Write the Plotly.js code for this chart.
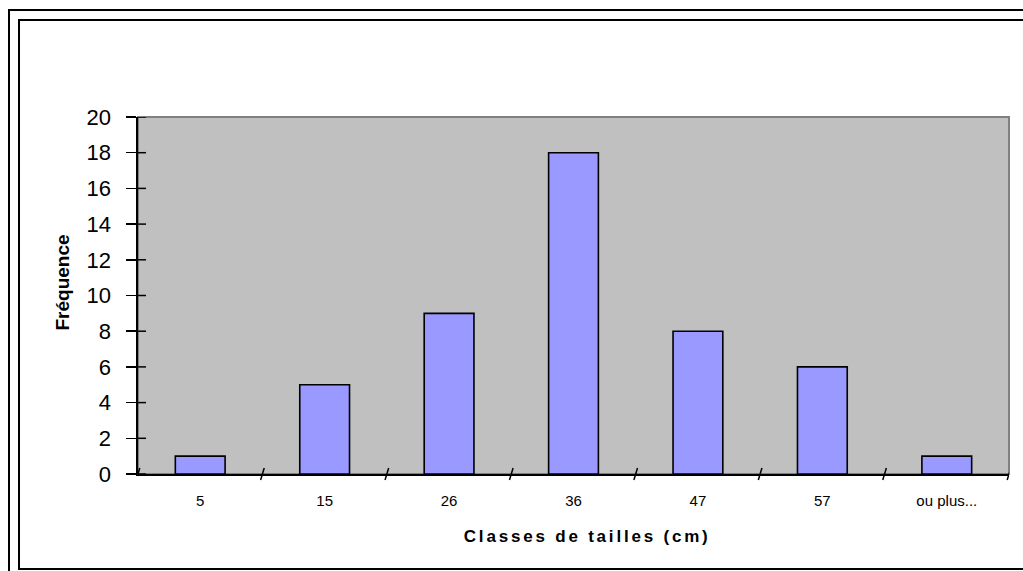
<!DOCTYPE html>
<html>
<head>
<meta charset="utf-8">
<script src="https://cdn.plot.ly/plotly-3.0.1.min.js"></script>
<style>
  html, body { margin: 0; padding: 0; background: #ffffff; }
  #wrap { position: relative; width: 1023px; height: 571px; overflow: hidden; }
  #chart { position: absolute; left: 0; top: 0; width: 1023px; height: 571px; }
  .frame { position: absolute; pointer-events: none; border-color: #000; border-style: solid; border-width: 0; }
  #outer { left: 8px; top: 9px; right: -20px; bottom: -20px; border-left-width: 2px; border-top-width: 2px; }
  #inner { left: 18px; top: 19px; right: -20px; bottom: 1px; border-left-width: 2px; border-top-width: 2px; border-bottom-width: 2px; }
  .xtitle text { letter-spacing: 2.8px; }
</style>
</head>
<body>
<div id="wrap">
  <div id="chart"></div>
  <div class="frame" id="outer"></div>
  <div class="frame" id="inner"></div>
</div>
<script>
// Size classes (cm) and how many individuals fall in each
const classes = ['5', '15', '26', '36', '47', '57', 'ou plus...'];
const frequencies = [1, 5, 9, 18, 8, 6, 1];
const yTicks = [0, 2, 4, 6, 8, 10, 12, 14, 16, 18, 20];

const FONT = 'Arial, "Liberation Sans", sans-serif';
const yRange = [0, 20];
const xRange = [-0.5, classes.length - 0.5];

const trace = {
  type: 'bar',
  x: classes,
  y: frequencies,
  marker: { color: '#9999FF', line: { color: '#000000', width: 1.6 } },
  hoverinfo: 'x+y'
};

// tick marks that cross the axis lines: the y ticks get an inner half,
// the class boundaries get a short slanted stroke across the x axis
const plotW = 1023 - 138 - 14;
const plotH = 571 - 117 - 97;
const tickShapes = [];
yTicks.forEach(v => {
  tickShapes.push({ type: 'line', xref: 'paper', yref: 'y', x0: 0, x1: 8 / plotW, y0: v, y1: v,
                    line: { color: '#000', width: 1.5 } });
});
for (let i = 0; i <= classes.length; i++) {
  const b = i - 0.5;
  const dx = 1.8 / (plotW / classes.length);
  tickShapes.push({ type: 'line', xref: 'x', yref: 'paper', x0: b - dx, x1: b + dx,
                    y0: -6 / plotH, y1: 6 / plotH, line: { color: '#000', width: 1.5 } });
}

const layout = {
  width: 1023,
  height: 571,
  margin: { l: 138, r: 14, t: 117, b: 97, pad: 0 },
  paper_bgcolor: 'rgba(0,0,0,0)',
  plot_bgcolor: '#C0C0C0',
  showlegend: false,
  bargap: 0.6,
  xaxis: {
    type: 'category',
    categoryorder: 'array',
    categoryarray: classes,
    range: xRange,
    ticks: '',
    showline: true,
    linecolor: '#000',
    linewidth: 1.6,
    showgrid: false,
    zeroline: false,
    ticklabelstandoff: 12,
    tickfont: { family: FONT, size: 15, color: '#000' },
    fixedrange: true
  },
  yaxis: {
    range: yRange,
    tickvals: yTicks,
    ticktext: yTicks.map(String),
    ticks: 'outside',
    ticklen: 10,
    tickwidth: 1.5,
    tickcolor: '#000',
    showline: true,
    linecolor: '#000',
    linewidth: 1.6,
    showgrid: false,
    zeroline: false,
    ticklabelstandoff: 11,
    tickfont: { family: FONT, size: 22, color: '#000' },
    fixedrange: true
  },
  shapes: [
    { type: 'rect', xref: 'paper', yref: 'paper', x0: 0, x1: 1, y0: 0, y1: 1,
      line: { color: '#808080', width: 2 }, fillcolor: 'rgba(0,0,0,0)', layer: 'below' }
  ].concat(tickShapes),
  annotations: [
    { text: '<b>Fréquence</b>', textangle: -90, xref: 'paper', yref: 'paper',
      x: -0.087, y: 0.537, xanchor: 'center', yanchor: 'middle', showarrow: false,
      font: { family: FONT, size: 19, color: '#000' } },
    { text: '<b>Classes de tailles (cm)</b>', xref: 'paper', yref: 'paper',
      x: 0.5155, y: -0.174, xanchor: 'center', yanchor: 'middle', showarrow: false,
      font: { family: FONT, size: 17, color: '#000' } }
  ]
};

Plotly.newPlot('chart', [trace], layout, { staticPlot: true, displayModeBar: false }).then(() => {
  const ann = document.querySelectorAll('#chart .annotation')[1];
  if (ann) ann.classList.add('xtitle');
});
</script>
</body>
</html>
